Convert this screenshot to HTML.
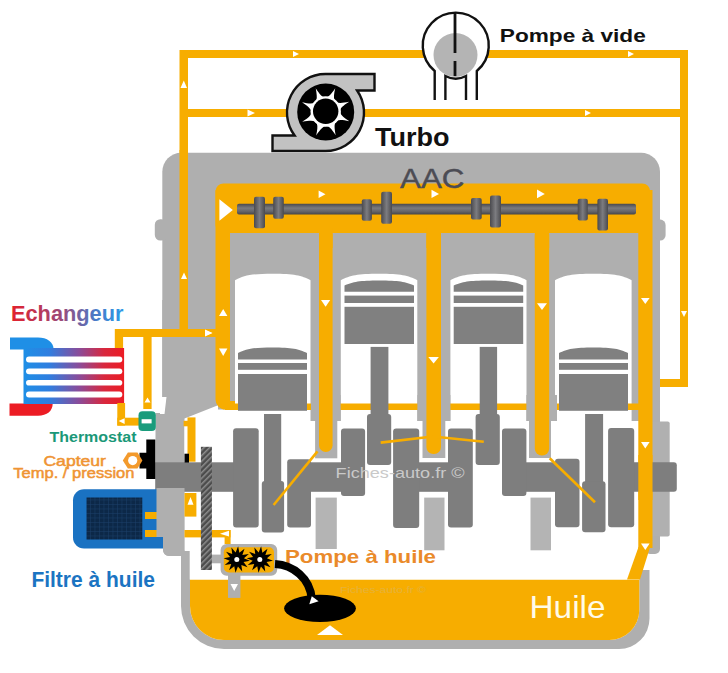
<!DOCTYPE html>
<html><head><meta charset="utf-8">
<style>
html,body{margin:0;padding:0;background:#fff;width:728px;height:673px;overflow:hidden}
svg{display:block;font-family:"Liberation Sans",sans-serif}
</style></head><body>
<svg width="728" height="673" viewBox="0 0 728 673">
<defs>
<linearGradient id="hx" x1="24" y1="0" x2="124" y2="0" gradientUnits="userSpaceOnUse">
<stop offset="0" stop-color="#1f8fe6"/><stop offset="0.25" stop-color="#2f7ee0"/><stop offset="0.55" stop-color="#8a4c9a"/><stop offset="0.8" stop-color="#d8283e"/><stop offset="1" stop-color="#ec1c24"/>
</linearGradient>
<linearGradient id="tx" x1="11" y1="0" x2="124" y2="0" gradientUnits="userSpaceOnUse">
<stop offset="0" stop-color="#e3202c"/><stop offset="0.45" stop-color="#9a4a7a"/><stop offset="0.75" stop-color="#4a7ac8"/><stop offset="1" stop-color="#2a9ae8"/>
</linearGradient>
<linearGradient id="cam" x1="0" y1="0" x2="0" y2="1">
<stop offset="0" stop-color="#4a4a4e"/><stop offset="0.4" stop-color="#7a7a7e"/><stop offset="0.7" stop-color="#66666a"/><stop offset="1" stop-color="#444448"/>
</linearGradient>
<linearGradient id="lobe" x1="0" y1="0" x2="1" y2="0">
<stop offset="0" stop-color="#4a4a4e"/><stop offset="0.5" stop-color="#7c7c80"/><stop offset="1" stop-color="#4a4a4e"/>
</linearGradient>
<pattern id="rack" width="4" height="4" patternUnits="userSpaceOnUse" patternTransform="rotate(-45)">
<rect width="4" height="4" fill="#4c4c4c"/><rect width="4" height="1.5" fill="#8e8e8e"/>
</pattern>
<pattern id="mesh" width="4.5" height="4.5" patternUnits="userSpaceOnUse">
<rect width="4.5" height="4.5" fill="#0c2848"/><path d="M0 0.3H4.5M0.3 0V4.5" stroke="#1b4069" stroke-width="0.6"/>
</pattern>
</defs>

<!-- ===== outer orange loop lines ===== -->
<g fill="#f7ad00">
<rect x="179.5" y="50" width="8.5" height="287"/>
<rect x="180" y="50" width="508" height="8"/>
<rect x="180" y="109" width="508" height="8"/>
<rect x="680" y="50" width="8" height="337"/>
<rect x="650" y="379" width="38" height="8"/>
</g>
<!-- arrows on outer lines -->
<g fill="#fff">
<path d="M628 51 L634 54 L628 57Z"/>
<path d="M585 110 L591 113 L585 116Z"/>
<path d="M293 51 L299 54 L293 57Z"/>
<path d="M247.5 109.5 L255 113 L247.5 116.5Z"/>
<path d="M180.5 88 L183.8 80.5 L187 88Z"/>
<path d="M181 279 L184 272.5 L187 279Z"/>
<path d="M681 311 L684 317 L687 311Z"/>
</g>

<!-- ===== Pompe a vide ===== -->
<g stroke="#111" stroke-width="2.4" fill="none">
<path d="M434.7 100 V71 A33 33 0 1 1 476.8 71 V100" fill="#fff"/>
<circle cx="455.5" cy="55" r="22" fill="#b4b4b4" stroke="none"/>
<path d="M445.4 100 V76 A22 22 0 0 0 466 76 V100"/>
<path d="M455 13 V53 M455 61 V76" stroke-width="2.8"/>
</g>
<text x="499.8" y="41.6" font-weight="bold" font-size="19" fill="#111" textLength="146" lengthAdjust="spacingAndGlyphs">Pompe à vide</text>

<!-- ===== Turbo ===== -->
<g stroke="#111" stroke-width="2.4" fill="#c2c2c2">
<path d="M325.5 74 H374.5 V90.5 H357.1 A38.5 38.5 0 0 1 325.5 151 H272.5 V135.5 H294.6 A38.5 38.5 0 0 1 325.5 74Z"/>
</g>
<circle cx="325.7" cy="112" r="28.5" fill="#000"/>
<path fill="#fff" d="M349.34 121.35 C334.30 117.82 333.09 121.26 335.66 135.27 C327.52 122.14 324.24 123.71 316.15 135.44 C319.68 120.40 316.24 119.19 302.23 121.76 C315.36 113.62 313.79 110.34 302.06 102.25 C317.10 105.78 318.31 102.34 315.74 88.33 C323.88 101.46 327.16 99.89 335.25 88.16 C331.72 103.20 335.16 104.41 349.17 101.84 C336.04 109.98 337.61 113.26 349.34 121.35 Z"/><circle cx="325.7" cy="111.5" r="15.2" fill="#fff"/>
<circle cx="325.7" cy="111.3" r="12.7" fill="#000"/>
<text x="375" y="146.2" font-weight="bold" font-size="25.3" fill="#111" textLength="74.5" lengthAdjust="spacingAndGlyphs">Turbo</text>

<!-- ===== Engine body ===== -->
<g fill="#afafaf">
<rect x="162.3" y="152.8" width="497.7" height="268" rx="19"/>
<rect x="162.3" y="300" width="497.7" height="121"/>
<rect x="154.8" y="219.2" width="12" height="21.3" rx="5.5"/>
<rect x="655" y="219.6" width="10.6" height="20.9" rx="5.5"/>
<!-- left column -->
<path d="M155.5 413 H184.5 V556 H169 A6 6 0 0 1 163 550 V537 H155.5Z"/>
<!-- right side -->
<rect x="645" y="400" width="15" height="154" rx="5"/>
<rect x="652" y="421.5" width="17.7" height="115" rx="2" fill="#b0b0b0"/>
</g>
<rect x="179.5" y="150" width="8.5" height="187" fill="#f7ad00"/>
<path d="M181 279 L184 272.5 L187 279Z" fill="#fff"/>
<!-- white notch on the left body -->
<path d="M160 397 L166.5 397 L164.5 414 L160 414Z" fill="#fff"/>

<!-- ===== Oil pan ===== -->
<path d="M181 550 V606 A43 43 0 0 0 224 649 H619 A30.5 30.5 0 0 0 649.5 618.5 V570 H639.3 V610 A30 30 0 0 1 609.3 640 H224 A34 34 0 0 1 190 606 V550Z" fill="#afafaf"/>
<path d="M190 579.5 H639.3 V610 A30 30 0 0 1 609.3 640 H224 A34 34 0 0 1 190 606Z" fill="#f7ad00"/>

<!-- crankcase white area -->
<rect x="184.5" y="421" width="455" height="130" fill="#fff"/><rect x="189.7" y="550" width="449.8" height="29.5" fill="#fff"/>
<path d="M218 405.2 L184.5 418.6 V422 H240 V409.5 H218Z" fill="#fff"/>

<!-- ===== Orange inner band ===== -->
<g fill="#f7ad00">
<rect x="215.5" y="183.5" width="434.7" height="49.5" rx="8"/>
<path d="M215.5 190 V399 A10 10 0 0 0 225.5 409.5 H240 V401 H230 V190Z"/>
<rect x="638.3" y="190" width="14.2" height="358"/>
<path d="M638.5 547 L652.3 540 L640 579.5 H627Z"/>
</g>

<!-- cylinder bores (white) -->
<g fill="#fff">
<path d="M235.0 421.0 V280.2 C244.1 275.3 251.6 273.7 272.8 273.7 C293.9 273.7 301.4 275.3 310.5 280.2 V421.0Z"/>
<path d="M340.8 421.0 V280.2 C350.0 275.3 357.6 273.7 379.1 273.7 C400.5 273.7 408.1 275.3 417.3 280.2 V421.0Z"/>
<path d="M450.4 421.0 V280.2 C459.5 275.3 467.1 273.7 488.4 273.7 C509.8 273.7 517.4 275.3 526.5 280.2 V421.0Z"/>
<path d="M555.0 421.0 V280.2 C564.2 275.3 571.9 273.7 593.3 273.7 C614.7 273.7 622.4 275.3 631.6 280.2 V421.0Z"/>
</g>

<!-- horizontal oil line under cylinders -->
<rect x="225" y="403.5" width="420" height="6.5" fill="#f7ad00"/>

<!-- walls narrow extensions -->
<g fill="#afafaf">
<rect x="311" y="395" width="29.6" height="26"/>
<rect x="315.1" y="420" width="22.2" height="38.3"/>
<rect x="417.4" y="395" width="33" height="26"/>
<rect x="422.5" y="420" width="22.8" height="38"/>
<rect x="526.4" y="395" width="30.6" height="26"/>
<rect x="529" y="420" width="22" height="38"/>
</g>
<!-- oil channels -->
<g fill="#f7ad00">
<rect x="319" y="228" width="13.6" height="224" rx="6.8"/>
<rect x="426.4" y="228" width="14.6" height="226" rx="7"/>
<rect x="534.8" y="228" width="14.4" height="227.5" rx="7"/>
<rect x="319" y="228" width="13.6" height="20"/>
<rect x="426.4" y="228" width="14.6" height="20"/>
<rect x="534.8" y="228" width="14.4" height="20"/>
</g>

<!-- ===== Camshaft ===== -->
<g fill="url(#cam)">
<rect x="237" y="203.8" width="399" height="10.8" rx="2"/>
<rect x="254" y="196.7" width="11" height="31.6" rx="2" fill="url(#lobe)"/>
<rect x="273.2" y="196.7" width="10.6" height="22" rx="2" fill="url(#lobe)"/>
<rect x="361.8" y="199.2" width="10.1" height="21.5" rx="2" fill="url(#lobe)"/>
<rect x="381.2" y="191.7" width="10.8" height="32" rx="2" fill="url(#lobe)"/>
<rect x="471" y="198" width="10.7" height="21.4" rx="2" fill="url(#lobe)"/>
<rect x="490" y="195.6" width="11" height="32" rx="2" fill="url(#lobe)"/>
<rect x="577.7" y="198.7" width="10.1" height="21.7" rx="2" fill="url(#lobe)"/>
<rect x="597.4" y="198.7" width="10.6" height="31.9" rx="2" fill="url(#lobe)"/>
</g>
<text x="400" y="188" font-size="27.5" fill="#4c4c54" stroke="#4c4c54" stroke-width="0.4" textLength="64.5" lengthAdjust="spacingAndGlyphs">AAC</text>

<!-- ===== Pistons ===== -->
<g fill="#808080">
<!-- cyl1 down -->
<path d="M238.0 359.4 V353.0 C246.3 348.8 253.2 347.4 272.5 347.4 C291.8 347.4 298.7 348.8 307.0 353.0 V359.4Z"/>
<rect x="238" y="363" width="69" height="6.8"/>
<rect x="238" y="374" width="69" height="36.8"/>
<!-- cyl2 up -->
<path d="M344.5 291.8 V285.5 C352.8 281.8 359.8 280.5 379.2 280.5 C398.7 280.5 405.7 281.8 414.0 285.5 V291.8Z"/>
<rect x="344.5" y="295.6" width="69.5" height="7.4"/>
<rect x="344.5" y="306.8" width="69.5" height="37.2"/>
<!-- cyl3 up -->
<path d="M453.7 291.8 V285.5 C462.0 281.8 469.0 280.5 488.5 280.5 C507.9 280.5 514.9 281.8 523.2 285.5 V291.8Z"/>
<rect x="453.7" y="295.6" width="69.5" height="7.4"/>
<rect x="453.7" y="306.8" width="69.5" height="37.2"/>
<!-- cyl4 down -->
<path d="M559.0 359.4 V353.0 C567.3 348.8 574.2 347.4 593.5 347.4 C612.8 347.4 619.7 348.8 628.0 353.0 V359.4Z"/>
<rect x="559" y="363" width="69" height="6.8"/>
<rect x="559" y="374" width="69" height="36.8"/>
</g>

<!-- ===== Crankshaft ===== -->
<g fill="#7e7e7e">
<rect x="155.3" y="462.3" width="80" height="29.5"/>
<rect x="308" y="462.3" width="36" height="29.5"/>
<rect x="416" y="462.3" width="35" height="29.5"/>
<rect x="523" y="462.3" width="35" height="29.5"/>
<rect x="630" y="462.3" width="46.8" height="29.5" rx="3"/>
<!-- cyl1 -->
<rect x="233.1" y="428.3" width="25.6" height="99.1" rx="3"/>
<rect x="264" y="414" width="17.2" height="70"/>
<rect x="261.8" y="481" width="22.3" height="51.6" rx="3"/>
<rect x="287.2" y="459.2" width="23.8" height="68.2" rx="3"/>
<!-- cyl2 -->
<rect x="341" y="428.4" width="24.1" height="67.6" rx="3"/>
<rect x="370.6" y="346.9" width="17.8" height="70"/>
<rect x="367" y="414" width="24.2" height="51" rx="3"/>
<rect x="393.1" y="428.4" width="26.1" height="99.5" rx="3"/>
<!-- cyl3 -->
<rect x="448" y="428.4" width="24.8" height="99" rx="3"/>
<rect x="479.7" y="346.9" width="17.4" height="70"/>
<rect x="475.6" y="414" width="24.2" height="51" rx="3"/>
<rect x="502" y="428.4" width="24.4" height="67.6" rx="3"/>
<!-- cyl4 -->
<rect x="555" y="458.7" width="24.5" height="68.5" rx="3"/>
<rect x="585.1" y="414" width="18" height="70"/>
<rect x="582.1" y="481.2" width="23.4" height="51.1" rx="3"/>
<rect x="608.1" y="428" width="26.1" height="99.2" rx="3"/>
</g>
<!-- light bearing caps -->
<g fill="#b4b4b4">
<rect x="315.6" y="497.6" width="21.2" height="51.4"/>
<rect x="424.2" y="497.6" width="20.3" height="52.7"/>
<rect x="530.5" y="497.6" width="20.5" height="52.7"/>
</g>
<!-- oil drillings -->
<g stroke="#f7ad00" stroke-width="2.6" fill="none">
<path d="M317.5 451.4 L273.6 505"/>
<path d="M380.7 442.6 L433 436.5 L483.8 441.8"/>
<path d="M549.7 458.3 L595 502.3"/>
</g>
<!-- right channel redraw over crank end -->
<rect x="638.3" y="455" width="14.2" height="45" fill="#f7ad00"/>

<text x="335.6" y="478" font-size="15" fill="#c9c9c9" textLength="129" lengthAdjust="spacingAndGlyphs">Fiches-auto.fr ©</text>

<!-- ===== Left side components ===== -->
<!-- heat exchanger -->
<rect x="114.8" y="329" width="8.3" height="73" fill="#f7ad00"/>
<path d="M10 337.5 H38 C47 337.5 53.6 342 53.6 349.5 H10Z" fill="#1f8fe6"/>
<path d="M9.5 415.7 H38 C47 415.7 52.7 411 52.7 403.5 H9.5Z" fill="#ec1c24"/>
<rect x="23.5" y="348" width="100.6" height="56" fill="url(#hx)"/>
<g fill="#fff">
<rect x="26" y="356.4" width="96.3" height="6.1" rx="3"/>
<rect x="26" y="368.4" width="96.3" height="5.9" rx="3"/>
<rect x="26" y="379.9" width="96.3" height="5.6" rx="2.8"/>
<rect x="26" y="391.6" width="96.3" height="5.9" rx="3"/>
</g>
<text x="11" y="320.8" font-weight="bold" font-size="22" fill="url(#tx)" textLength="112.5" lengthAdjust="spacingAndGlyphs">Echangeur</text>

<!-- orange lines to exchanger / thermostat -->
<g fill="#f7ad00">
<rect x="115" y="329" width="101" height="8"/>

<rect x="143.3" y="337" width="8.3" height="72"/>
<rect x="117.3" y="403" width="7.8" height="22.6"/>
<rect x="117.3" y="417.7" width="22" height="7.9"/>
</g>
<g fill="#fff">
<path d="M205 330 L212 333 L205 336Z"/>
<path d="M144.5 402.6 L147.5 397.4 L150.5 402.6Z"/>
<path d="M124.6 418.3 L118.6 421.1 L124.6 424Z"/>
</g>
<!-- thermostat -->
<rect x="138.5" y="411.3" width="17.3" height="19.7" rx="4" fill="#1a9c7c"/>
<rect x="141.6" y="419.2" width="10" height="4.2" fill="#fff"/>
<text x="49.5" y="442" font-weight="bold" font-size="14.5" fill="#1a9878" textLength="87" lengthAdjust="spacingAndGlyphs">Thermostat</text>

<!-- sensor -->
<path d="M146.3 439.6 H155.3 V479 H146.3 V468.5 H139.5 V452.8 H146.3Z" fill="#000"/>
<polygon points="127.9,452.5 137.5,452.5 142.4,460.6 137.5,468.6 127.9,468.6 122.8,460.6" fill="#f39a2c"/><circle cx="132.7" cy="460.6" r="4.6" fill="#fff"/>
<text x="43.4" y="466.2" font-size="15" fill="#ef9433" stroke="#ef9433" stroke-width="0.5" textLength="62.6" lengthAdjust="spacingAndGlyphs">Capteur</text>
<text x="13.3" y="477.8" font-size="15" fill="#ef9433" stroke="#ef9433" stroke-width="0.5" textLength="121.2" lengthAdjust="spacingAndGlyphs">Temp. / pression</text>

<!-- filter -->
<path d="M84 489.2 H166 V548.4 H84 A11 11 0 0 1 73 537.4 V500.2 A11 11 0 0 1 84 489.2Z" fill="#1a72c2"/>
<rect x="86.5" y="497.5" width="55.8" height="42" fill="url(#mesh)"/>
<rect x="145" y="512" width="12" height="7" fill="#f7ad00"/>
<rect x="145" y="530" width="12" height="7" fill="#f7ad00"/>
<path d="M156.5 488 H184.5 V556 H169 A6 6 0 0 1 163 550 V537 H156.5Z" fill="#afafaf"/>
<text x="31.4" y="587.2" font-weight="bold" font-size="22.5" fill="#1b74c2" textLength="123.6" lengthAdjust="spacingAndGlyphs">Filtre à huile</text>

<!-- small orange pieces near crank -->
<g fill="#f7ad00">
<rect x="187.5" y="417.4" width="8" height="44.3"/>
<rect x="183.6" y="420.8" width="5" height="5.5"/>
<rect x="184.5" y="493" width="11.9" height="23.6"/>
<rect x="184.5" y="530" width="46" height="7.4"/>
<rect x="224.6" y="530" width="6" height="14"/>
</g>
<rect x="184.5" y="453.7" width="4.5" height="8.9" fill="#000"/>
<g fill="#fff">
<path d="M187.5 504.7 L190.5 497 L193.5 504.7Z"/>
<path d="M229 530.8 L220 533.7 L229 536.6Z"/>
</g>

<!-- gear rack -->
<rect x="200.9" y="446.8" width="11" height="123.2" fill="url(#rack)"/>

<!-- oil pump -->
<rect x="212" y="554.6" width="9" height="8.7" fill="#afafaf"/>
<rect x="220.6" y="544" width="56.6" height="31.7" rx="6" fill="#afafaf"/>
<rect x="223.8" y="547.2" width="50.2" height="25.3" rx="5" fill="#f7ad00"/>
<rect x="228" y="575" width="12.4" height="22.9" fill="#afafaf"/>
<path d="M230.5 584 L238 584 L234.2 591Z" fill="#fff"/>
<g><polygon fill="#000" points="249.93,560.82 243.53,562.05 247.52,567.21 241.36,565.07 242.23,571.53 237.96,566.61 235.48,572.63 234.25,566.23 229.09,570.22 231.23,564.06 224.77,564.93 229.69,560.66 223.67,558.18 230.07,556.95 226.08,551.79 232.24,553.93 231.37,547.47 235.64,552.39 238.12,546.37 239.35,552.77 244.51,548.78 242.37,554.94 248.83,554.07 243.91,558.34"/><circle cx="236.8" cy="559.5" r="4.6" fill="#000"/><circle cx="236.8" cy="559.5" r="2.5" fill="#fff"/><polygon fill="#000" points="272.93,560.82 266.53,562.05 270.52,567.21 264.36,565.07 265.23,571.53 260.96,566.61 258.48,572.63 257.25,566.23 252.09,570.22 254.23,564.06 247.77,564.93 252.69,560.66 246.67,558.18 253.07,556.95 249.08,551.79 255.24,553.93 254.37,547.47 258.64,552.39 261.12,546.37 262.35,552.77 267.51,548.78 265.37,554.94 271.83,554.07 266.91,558.34"/><circle cx="259.8" cy="559.5" r="4.6" fill="#000"/><circle cx="259.8" cy="559.5" r="2.5" fill="#fff"/></g>
<text x="285" y="563.4" font-weight="bold" font-size="19" fill="#ea8a2a" textLength="151" lengthAdjust="spacingAndGlyphs">Pompe à huile</text>

<!-- pickup -->
<path d="M275 564 C293 565 310 578 311.8 599" stroke="#000" stroke-width="8.2" fill="none"/>
<ellipse cx="320" cy="608.4" rx="35.9" ry="13.6" fill="#000"/>
<path d="M309.3 604.3 L311.8 596.3 L318.6 601.2Z" fill="#fff"/>
<path d="M330 625.2 L343 635 L317 635Z" fill="#fff"/>
<text x="529.5" y="618" font-size="30.5" fill="#fffbe8" textLength="76" lengthAdjust="spacingAndGlyphs">Huile</text>
<text x="340" y="593" font-size="9.5" fill="#e6b23a" textLength="86" lengthAdjust="spacingAndGlyphs">Fiches-auto.fr ©</text>

<!-- inner arrows -->
<g fill="#fff">
<path d="M219.4 199.2 L232.8 210 L219.4 220.7Z"/>
<path d="M318.6 190.4 L325.5 194.2 L318.6 198Z"/>
<path d="M431.5 189.8 L439 193.9 L431.5 198Z"/>
<path d="M537 189.5 L544.8 193.9 L537 198.3Z"/>
<path d="M219 316 L223.2 309 L227.4 316Z"/>
<path d="M219 348.5 L223.2 356 L227.4 348.5Z"/>
<path d="M205 329.5 L212.5 333 L205 336.5Z"/>
<path d="M321 300 L325.6 306.8 L330.2 300Z"/>
<path d="M428.3 357 L433.6 363.6 L438.9 357Z"/>
<path d="M537 303.3 L542 310 L547 303.3Z"/>
<path d="M641 298 L645.3 304 L649.6 298Z"/>
<path d="M641 442 L645.3 448.6 L649.6 442Z"/>
<path d="M641 543.4 L645.3 550 L649.6 543.4Z"/>
</g>
</svg>
</body></html>
